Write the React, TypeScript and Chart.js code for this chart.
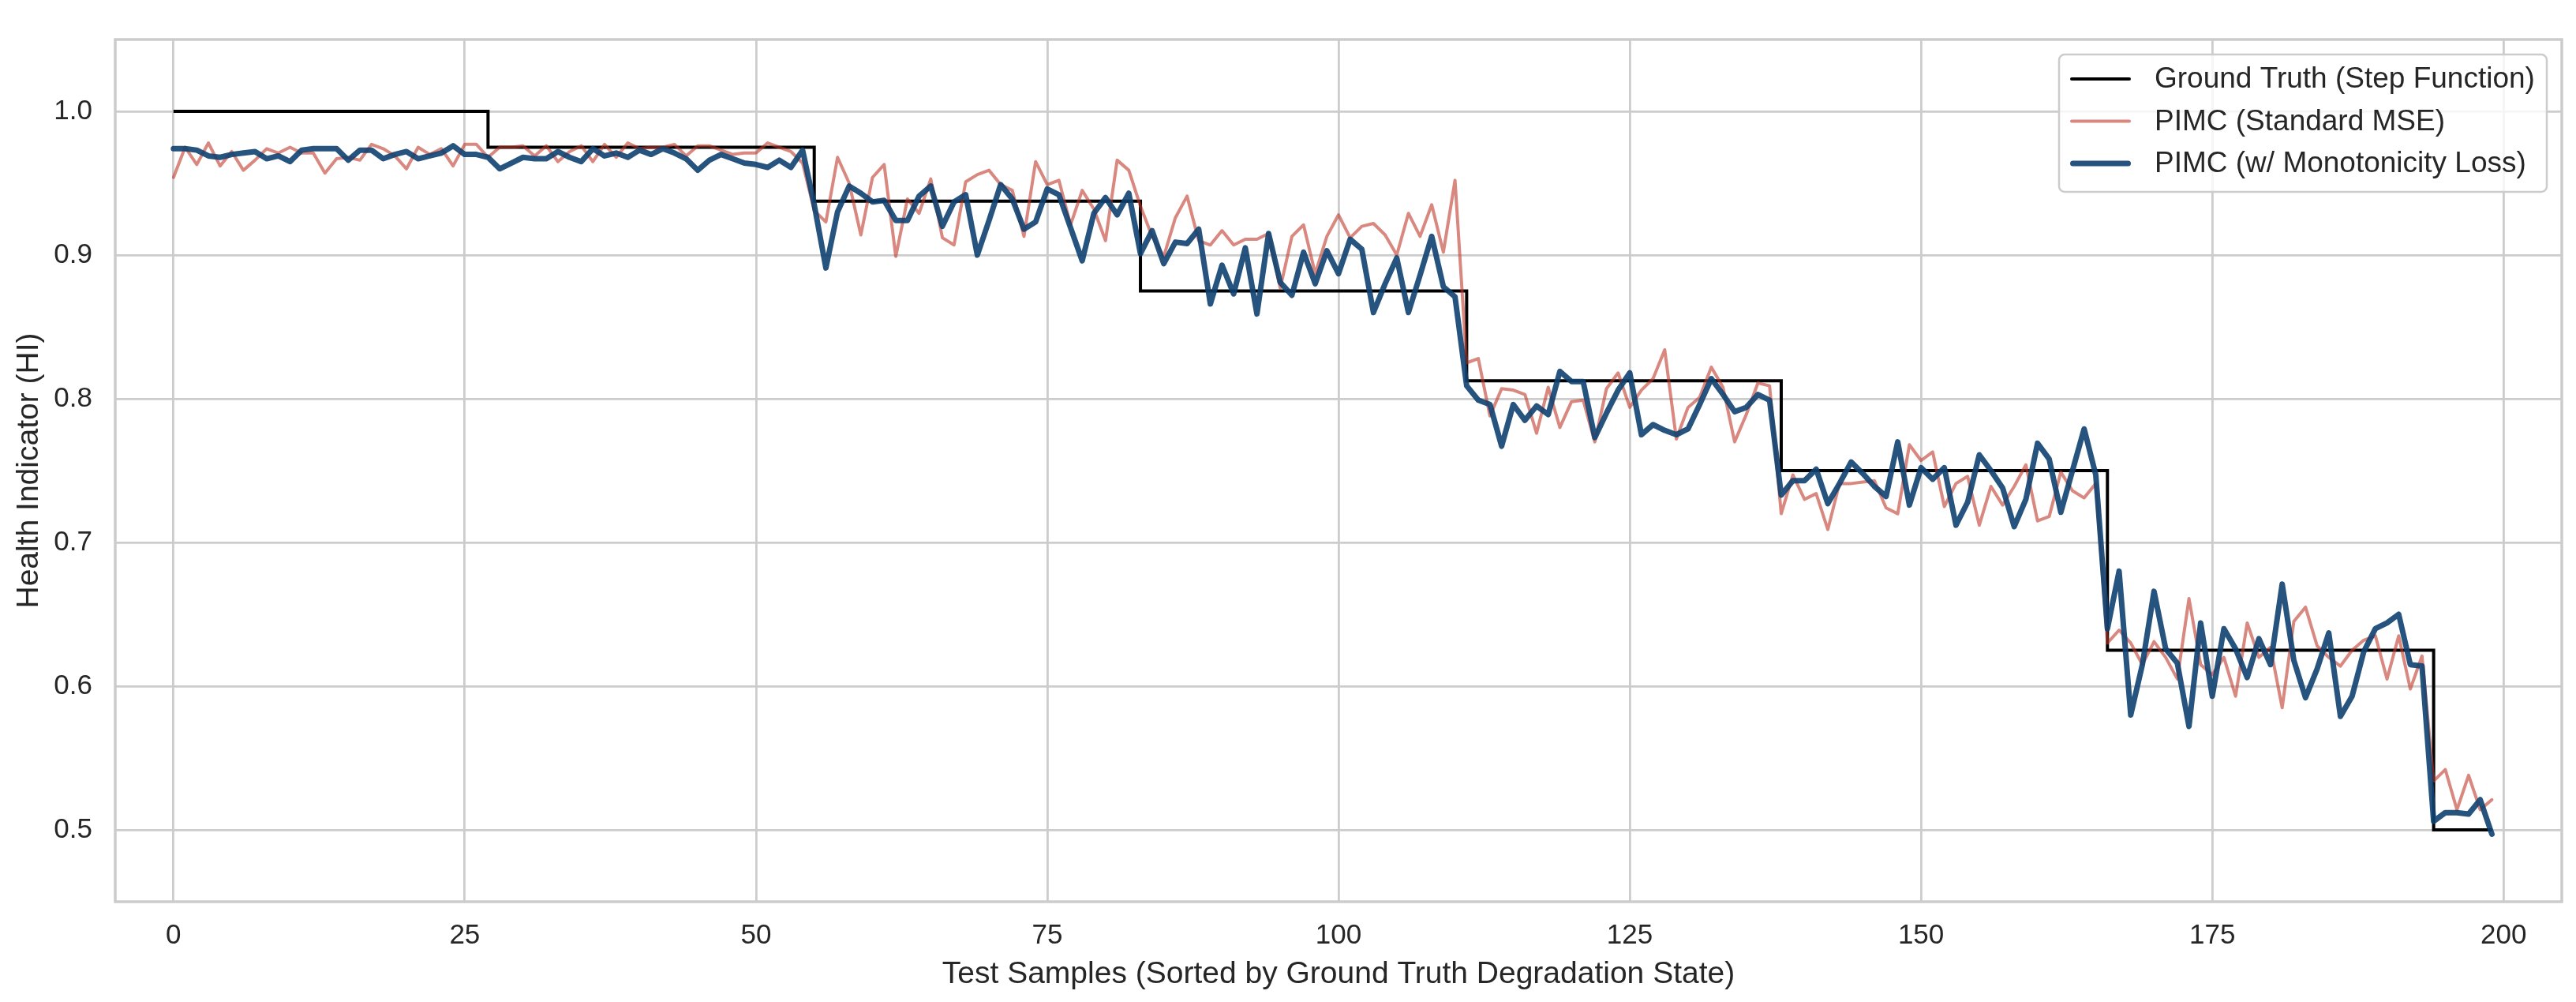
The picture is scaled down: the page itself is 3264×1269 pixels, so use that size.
import { useEffect, useRef } from 'react';
import { Chart, registerables } from 'chart.js';

Chart.register(...registerables);

// ground truth: sample index where each level starts, and the level itself
const stepStarts = [0, 27, 55, 83, 111, 138, 166, 194, 199];
const groundTruthLevels = [1.0, 0.975, 0.9375, 0.875, 0.8125, 0.75, 0.625, 0.5, 0.5];

// PIMC (Standard MSE), samples 0..199
const mseValues = [
  0.954, 0.975, 0.963, 0.978, 0.962, 0.972, 0.959, 0.966, 0.974, 0.971, 0.975, 0.971, 0.971, 0.957, 0.967, 0.968, 0.966, 0.977, 0.974, 0.969, 0.960, 0.975, 0.970, 0.974, 0.962,
  0.977, 0.977, 0.968, 0.975, 0.975, 0.976, 0.969, 0.976, 0.965, 0.972, 0.976, 0.965, 0.977, 0.968, 0.978, 0.974, 0.975, 0.975, 0.977, 0.969, 0.976, 0.976, 0.973, 0.970, 0.971,
  0.971, 0.978, 0.975, 0.972, 0.964, 0.931, 0.923, 0.968, 0.950, 0.914, 0.954, 0.963, 0.899, 0.939, 0.929, 0.953, 0.912, 0.907, 0.951, 0.956, 0.959, 0.949, 0.945, 0.913, 0.965,
  0.949, 0.952, 0.921, 0.945, 0.932, 0.910, 0.966, 0.959, 0.934, 0.913, 0.899, 0.926, 0.941, 0.910, 0.907, 0.917, 0.907, 0.911, 0.911, 0.915, 0.877, 0.913, 0.921, 0.887, 0.913,
  0.928, 0.912, 0.920, 0.922, 0.914, 0.900, 0.929, 0.913, 0.935, 0.902, 0.952, 0.825, 0.828, 0.788, 0.807, 0.806, 0.803, 0.776, 0.808, 0.780, 0.798, 0.799, 0.770, 0.807, 0.818,
  0.794, 0.806, 0.814, 0.834, 0.772, 0.794, 0.801, 0.822, 0.808, 0.770, 0.789, 0.811, 0.809, 0.720, 0.747, 0.730, 0.734, 0.709, 0.741, 0.741, 0.742, 0.743, 0.724, 0.720, 0.768,
  0.757, 0.763, 0.725, 0.741, 0.746, 0.712, 0.739, 0.726, 0.739, 0.754, 0.715, 0.718, 0.749, 0.736, 0.731, 0.741, 0.630, 0.639, 0.630, 0.615, 0.631, 0.620, 0.605, 0.661, 0.615,
  0.608, 0.620, 0.593, 0.644, 0.620, 0.627, 0.585, 0.645, 0.655, 0.628, 0.620, 0.614, 0.625, 0.632, 0.635, 0.605, 0.635, 0.598, 0.621, 0.534, 0.542, 0.514, 0.538, 0.514, 0.521,
];

// PIMC (w/ Monotonicity Loss), samples 0..199
const monoValues = [
  0.974, 0.974, 0.973, 0.969, 0.968, 0.970, 0.971, 0.972, 0.967, 0.969, 0.965, 0.973, 0.974, 0.974, 0.974, 0.966, 0.973, 0.973, 0.967, 0.970, 0.972, 0.967, 0.969, 0.971, 0.976,
  0.970, 0.970, 0.968, 0.960, 0.964, 0.968, 0.967, 0.967, 0.972, 0.968, 0.965, 0.974, 0.969, 0.971, 0.968, 0.973, 0.970, 0.974, 0.971, 0.967, 0.959, 0.966, 0.970, 0.967, 0.964,
  0.963, 0.961, 0.966, 0.961, 0.973, 0.935, 0.891, 0.930, 0.948, 0.943, 0.937, 0.938, 0.924, 0.924, 0.941, 0.948, 0.920, 0.937, 0.942, 0.900, 0.924, 0.949, 0.939, 0.918, 0.923,
  0.946, 0.942, 0.919, 0.896, 0.929, 0.940, 0.928, 0.943, 0.901, 0.917, 0.894, 0.909, 0.908, 0.918, 0.866, 0.893, 0.873, 0.905, 0.859, 0.915, 0.881, 0.872, 0.902, 0.880, 0.903,
  0.887, 0.911, 0.904, 0.860, 0.880, 0.898, 0.860, 0.886, 0.913, 0.878, 0.871, 0.809, 0.799, 0.796, 0.767, 0.796, 0.785, 0.795, 0.789, 0.819, 0.812, 0.812, 0.773, 0.790, 0.806,
  0.818, 0.775, 0.782, 0.778, 0.775, 0.779, 0.796, 0.814, 0.803, 0.791, 0.794, 0.803, 0.799, 0.733, 0.743, 0.743, 0.751, 0.727, 0.741, 0.756, 0.748, 0.739, 0.732, 0.770, 0.726,
  0.752, 0.744, 0.752, 0.712, 0.728, 0.761, 0.750, 0.738, 0.711, 0.730, 0.769, 0.758, 0.721, 0.750, 0.779, 0.747, 0.640, 0.680, 0.580, 0.615, 0.666, 0.626, 0.616, 0.572, 0.644,
  0.593, 0.640, 0.626, 0.606, 0.633, 0.615, 0.671, 0.618, 0.592, 0.612, 0.637, 0.579, 0.593, 0.624, 0.640, 0.644, 0.650, 0.615, 0.614, 0.506, 0.512, 0.512, 0.511, 0.521, 0.497,
];

const xTicks = [0, 25, 50, 75, 100, 125, 150, 175, 200];
const yTicks = [0.5, 0.6, 0.7, 0.8, 0.9, 1.0];

const FONT = '"Liberation Sans", Arial, sans-serif';
const TEXT = '#262626';
const GRID = '#cccccc';

// box round the plot area (all four spines)
const spines = {
  id: 'spines',
  beforeDatasetsDraw(chart: any) {
    const { ctx, chartArea } = chart;
    ctx.save();
    ctx.strokeStyle = GRID;
    ctx.lineWidth = 3.5;
    ctx.strokeRect(chartArea.left, chartArea.top, chartArea.right - chartArea.left, chartArea.bottom - chartArea.top);
    ctx.restore();
  },
};

// matplotlib-like legend in the upper right corner
const legendBox = {
  id: 'legendBox',
  afterDatasetsDraw(chart: any) {
    const { ctx, chartArea } = chart;
    const w = 618;
    const h = 174;
    const x = chartArea.right - 19 - w;
    const y = chartArea.top + 19;
    ctx.save();
    ctx.beginPath();
    ctx.roundRect(x, y, w, h, 7);
    ctx.fillStyle = 'rgba(255,255,255,0.8)';
    ctx.fill();
    ctx.lineWidth = 2.5;
    ctx.strokeStyle = GRID;
    ctx.stroke();

    chart.data.datasets.forEach((ds: any, row: number) => {
      const rowY = y + 31 + row * 53.5;
      const lw = ds.borderWidth;
      ctx.beginPath();
      ctx.moveTo(x + 14 + lw / 2, rowY);
      ctx.lineTo(x + 91 - lw / 2, rowY);
      ctx.strokeStyle = ds.borderColor;
      ctx.lineWidth = lw;
      ctx.lineCap = 'round';
      ctx.stroke();
      ctx.fillStyle = TEXT;
      ctx.font = `37px ${FONT}`;
      ctx.textBaseline = 'middle';
      ctx.textAlign = 'left';
      ctx.fillText(ds.label, x + 121, rowY + 1);
    });
    ctx.restore();
  },
};

const App = () => {
  const canvasRef = useRef<HTMLCanvasElement | null>(null);
  const chartRef = useRef<Chart | null>(null);

  useEffect(() => {
    if (!canvasRef.current) return;
    if (chartRef.current) chartRef.current.destroy();

    chartRef.current = new Chart(canvasRef.current, {
      type: 'line',
      data: {
        datasets: [
          {
            label: 'Ground Truth (Step Function)',
            data: stepStarts.map((x, i) => ({ x, y: groundTruthLevels[i] })),
            borderColor: '#000000',
            borderWidth: 4,
            stepped: 'before',
            pointRadius: 0,
            borderJoinStyle: 'miter',
            order: 3,
          },
          {
            label: 'PIMC (Standard MSE)',
            data: mseValues.map((y, i) => ({ x: i, y })),
            borderColor: 'rgba(192, 57, 43, 0.6)',
            borderWidth: 4,
            pointRadius: 0,
            tension: 0,
            borderJoinStyle: 'round',
            borderCapStyle: 'round',
            order: 2,
          },
          {
            label: 'PIMC (w/ Monotonicity Loss)',
            data: monoValues.map((y, i) => ({ x: i, y })),
            borderColor: 'rgba(15, 65, 112, 0.9)',
            borderWidth: 7,
            pointRadius: 0,
            tension: 0,
            borderJoinStyle: 'round',
            borderCapStyle: 'round',
            order: 1,
          },
        ],
      },
      options: {
        responsive: false,
        animation: false,
        devicePixelRatio: 1,
        events: [],
        layout: { padding: { top: 15, right: 18, left: 0, bottom: 0 } },
        plugins: {
          legend: { display: false },
          tooltip: { enabled: false },
        },
        scales: {
          x: {
            type: 'linear',
            min: -5,
            max: 205,
            afterBuildTicks: (scale: any) => {
              scale.ticks = xTicks.map((value) => ({ value }));
            },
            afterFit: (scale: any) => {
              scale.height = 127;
            },
            grid: { color: GRID, lineWidth: 2.8, drawTicks: false },
            border: { display: false },
            ticks: {
              padding: 22,
              autoSkip: false,
              maxRotation: 0,
              color: TEXT,
              font: { family: FONT, size: 35 },
              callback: (v: any) => String(v),
            },
            title: {
              display: true,
              text: 'Test Samples (Sorted by Ground Truth Degradation State)',
              color: TEXT,
              font: { family: FONT, size: 39 },
              padding: { top: 0, bottom: 11 },
            },
          },
          y: {
            type: 'linear',
            min: 0.45,
            max: 1.05,
            afterBuildTicks: (scale: any) => {
              scale.ticks = yTicks.map((value) => ({ value }));
            },
            afterFit: (scale: any) => {
              scale.width = 146;
            },
            grid: { color: GRID, lineWidth: 2.8, drawTicks: false },
            border: { display: false },
            ticks: {
              padding: 29,
              autoSkip: false,
              color: TEXT,
              font: { family: FONT, size: 35 },
              callback: (v: any) => Number(v).toFixed(1),
            },
            title: {
              display: true,
              text: 'Health Indicator (HI)',
              color: TEXT,
              font: { family: FONT, size: 39 },
              padding: { top: 14, bottom: 0 },
            },
          },
        },
      },
      plugins: [spines, legendBox],
    });

    return () => {
      if (chartRef.current) {
        chartRef.current.destroy();
        chartRef.current = null;
      }
    };
  }, []);

  return (
    <div style={{ position: 'fixed', left: 0, top: 0, width: 3264, height: 1269, background: '#ffffff' }}>
      <canvas ref={canvasRef} width={3264} height={1269} style={{ display: 'block' }} />
    </div>
  );
};

export default App;
